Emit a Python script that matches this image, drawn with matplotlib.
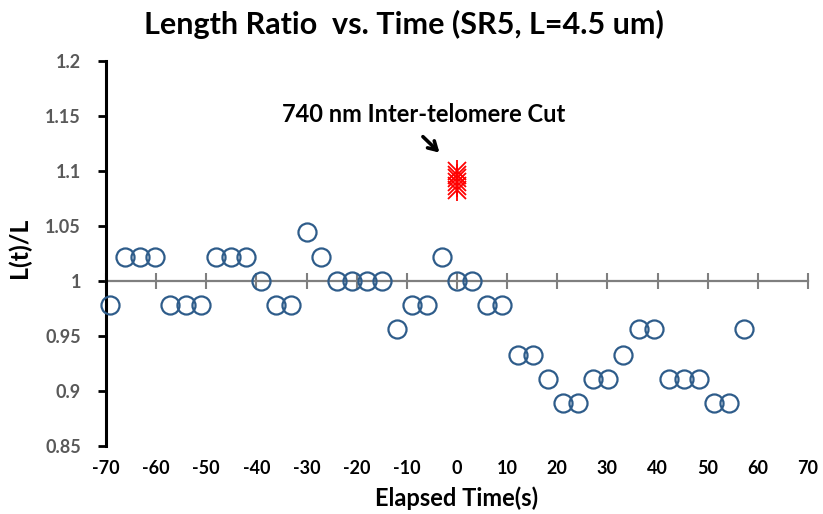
import matplotlib
matplotlib.use("Agg")
import matplotlib.pyplot as plt

plt.rcParams['font.family'] = ['Lato', 'DejaVu Sans']
plt.rcParams['font.weight'] = 'bold'

# tiempos (s) y razon de longitud L(t)/L
tiempo = [-69.3, -66.3, -63.2, -60.2, -57.2, -54.1, -51.1, -48.1, -45.1, -42.1,
          -39.1, -36.1, -33.1, -30.0, -27.1, -24.0, -21.0, -18.0, -15.0, -12.0,
          -9.0, -6.0, -3.0, 0.0, 3.0, 6.0, 9.0, 12.1, 15.1, 18.1,
          21.1, 24.1, 27.1, 30.1, 33.1, 36.2, 39.2, 42.2, 45.2, 48.3,
          51.2, 54.2, 57.2]
razon = [0.978, 1.022, 1.022, 1.022, 0.978, 0.978, 0.978, 1.022, 1.022, 1.022,
         1.0, 0.978, 0.978, 1.044, 1.022, 1.0, 1.0, 1.0, 1.0, 0.956,
         0.978, 0.978, 1.022, 1.0, 1.0, 0.978, 0.978, 0.933, 0.933, 0.911,
         0.889, 0.889, 0.911, 0.911, 0.933, 0.956, 0.956, 0.911, 0.911, 0.911,
         0.889, 0.889, 0.956]

# corte (marcas rojas)
corte_t = [0, 0, 0, 0, 0, 0]
corte_r = [1.0825, 1.086, 1.0895, 1.093, 1.0965, 1.100]

xticks = list(range(-70, 71, 10))
yticks = [0.85, 0.9, 0.95, 1.0, 1.05, 1.1, 1.15, 1.2]
ylabels = ["0.85", "0.9", "0.95", "1", "1.05", "1.1", "1.15", "1.2"]

fig = plt.figure(figsize=(8.23, 5.14), dpi=100)
ax = fig.add_axes([0.1288, 0.1323, 0.853, 0.7496])

ax.plot(tiempo, razon, 'o', ms=13, mfc='none', mec='#2E5C8A', mew=1.6,
        zorder=3, clip_on=False)
ax.plot(corte_t, corte_r, 'x', ms=13, mec='red', mew=1.3, zorder=4)
ax.plot(corte_t, corte_r, '|', ms=16, mec='red', mew=1.3, zorder=4)

ax.set_xlim(-70, 70)
ax.set_ylim(0.85, 1.2)

# eje x cruzando en y=1
ax.spines['right'].set_visible(False)
ax.spines['bottom'].set_visible(False)
ax.spines['top'].set_position(('data', 1.0))
ax.spines['top'].set_color('#7f7f7f')
ax.spines['top'].set_linewidth(1.6)
ax.spines['top'].set_zorder(2)
ax.spines['left'].set_linewidth(2.2)
ax.spines['left'].set_color('black')

ax.set_xticks(xticks)
ax.set_xticklabels([str(v) for v in xticks])
ax.tick_params(axis='x', bottom=False, top=True, labelbottom=True, labeltop=False,
               direction='inout', length=12, width=1.5, color='#7f7f7f',
               labelsize=13, labelcolor='black', pad=4)
ax.set_yticks(yticks)
ax.set_yticklabels(ylabels)
ax.tick_params(axis='y', direction='out', length=6, width=2, color='black',
               labelsize=13, labelcolor='#595959', pad=12)

ax.set_xlabel("Elapsed Time(s)", fontsize=17, fontweight='bold')
ax.xaxis.set_label_coords(0.5, -0.105)
ax.set_ylabel("L(t)/L", fontsize=18, fontweight='bold')
ax.yaxis.set_label_coords(-0.107, 0.515)

fig.text(0.491, 0.953, "Length Ratio  vs. Time (SR5, L=4.5 um)", fontsize=22,
         fontweight='bold', ha='center', va='center')

ax.text(-6.7, 1.1515, "740 nm Inter-telomere Cut", fontsize=17, fontweight='bold',
        ha='center', va='center')
ax.annotate('', xy=(-3.5, 1.1165), xytext=(-6.8, 1.131),
            arrowprops=dict(arrowstyle='->, head_length=0.6, head_width=0.35',
                            color='black', lw=2.6, shrinkA=0, shrinkB=0))

fig.savefig("out.png", dpi=100)
